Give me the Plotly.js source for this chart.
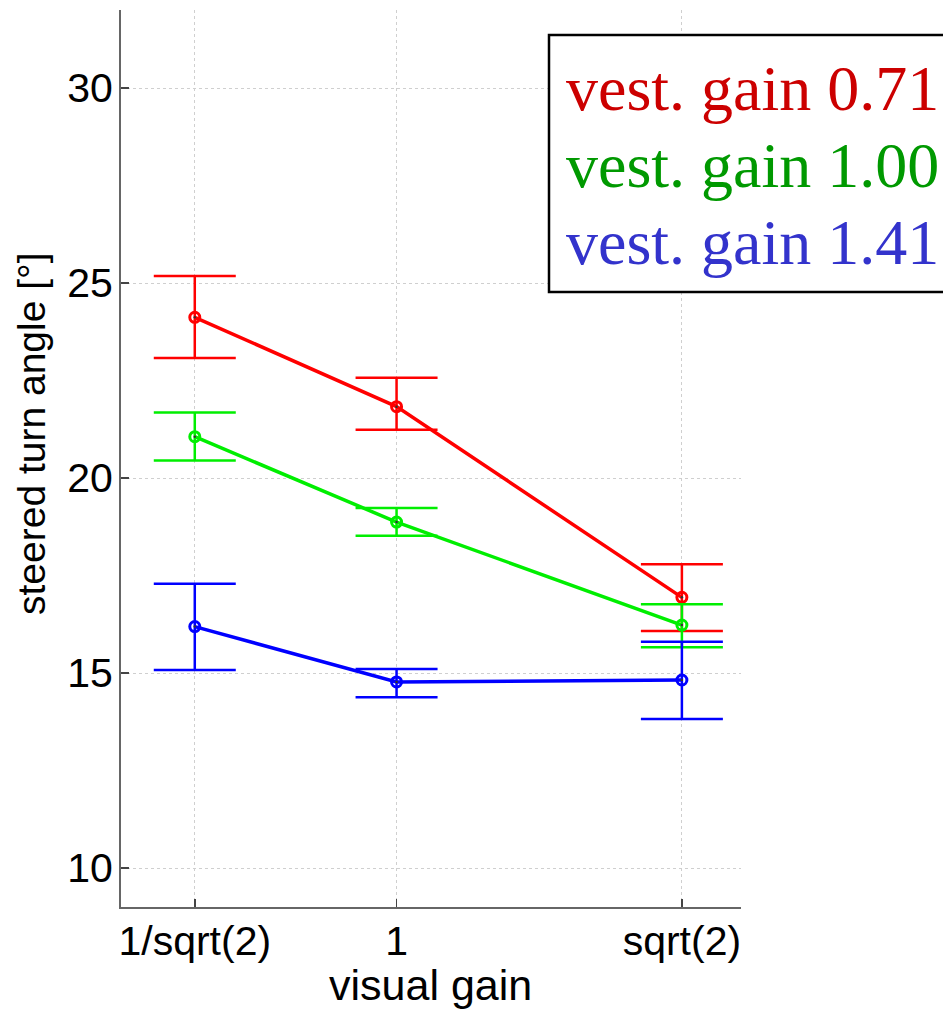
<!DOCTYPE html>
<html>
<head>
<meta charset="utf-8">
<script src="https://cdn.plot.ly/plotly-3.0.1.min.js"></script>
<style>html,body{margin:0;padding:0;background:#fff;}#chart{width:943px;height:1011px;}</style>
</head>
<body>
<div id="chart"></div>
<script>
// visual gain positions (numeric) and their tick labels
const visualGain = [0.7071, 1, 1.4142];
const tickLabels = ["1/sqrt(2)", "1", "sqrt(2)"];

// steered turn angle means and error bar ends (degrees)
const redMean  = [24.12, 21.83, 16.94];
const redUp    = [25.18, 22.57, 17.79];
const redLow   = [23.08, 21.24, 16.08];

const greenMean = [21.06, 18.87, 16.23];
const greenUp   = [21.68, 19.23, 16.76];
const greenLow  = [20.45, 18.52, 15.66];

const blueMean = [16.19, 14.77, 14.82];
const blueUp   = [17.29, 15.10, 15.80];
const blueLow  = [15.08, 14.38, 13.82];

const legendLabels = ["vest. gain 0.71", "vest. gain 1.00", "vest. gain 1.41"];
const legendColors = ["#cc0000", "#009900", "#3333cc"];

function series(mean, up, low, color) {
  return {
    x: visualGain, y: mean, type: "scatter", mode: "lines+markers",
    line: {color: color, width: 3.5},
    marker: {symbol: "circle-open", size: 10, color: color, line: {width: 3, color: color}},
    error_y: {
      type: "data", symmetric: false,
      array: up.map((u, i) => u - mean[i]),
      arrayminus: low.map((l, i) => mean[i] - l),
      color: color, thickness: 2.5, width: 41
    },
    showlegend: false, hoverinfo: "skip"
  };
}
function dots(mean) {
  return {x: visualGain, y: mean, type: "scatter", mode: "markers",
    marker: {size: 2.5, color: "#333"}, showlegend: false, hoverinfo: "skip"};
}

const data = [
  series(redMean, redUp, redLow, "#ff0000"),
  series(greenMean, greenUp, greenLow, "#00ee00"),
  series(blueMean, blueUp, blueLow, "#0000ff"),
  dots(redMean), dots(greenMean), dots(blueMean)
];

const sans = "'Liberation Sans', Arial, Helvetica, sans-serif";
const tickFont = {family: sans, size: 41, color: "#000"};

const annotations = legendLabels.map((t, i) => ({
  xref: "paper", yref: "paper",
  x: (564 - 121) / 620, y: (907 - (88 + 77 * i)) / 897,
  xanchor: "left", yanchor: "middle", showarrow: false,
  text: t, font: {family: "'Liberation Serif', 'Times New Roman', serif", size: 64, color: legendColors[i]}
}));
annotations.push({
  xref: "paper", yref: "paper", x: (430 - 121) / 620, y: (907 - 985) / 897,
  xanchor: "center", yanchor: "middle", showarrow: false,
  text: "visual gain", font: {family: sans, size: 43, color: "#000"}
});
annotations.push({
  xref: "paper", yref: "paper", x: (31 - 121) / 620, y: (907 - 434) / 897,
  xanchor: "center", yanchor: "middle", showarrow: false, textangle: -90,
  text: "steered turn angle [°]", font: {family: sans, size: 39, color: "#000"}
});

const layout = {
  width: 943, height: 1011,
  margin: {l: 121, r: 202, t: 10, b: 104, pad: 0},
  paper_bgcolor: "#fff", plot_bgcolor: "#fff",
  xaxis: {
    range: [0.6, 1.5], tickvals: visualGain, ticktext: tickLabels,
    showline: true, linecolor: "#666", linewidth: 2, mirror: false,
    ticks: "inside", ticklen: 8, tickcolor: "#444", tickwidth: 1.5,
    showgrid: true, gridcolor: "#cfcfcf", griddash: "dot", gridwidth: 1,
    zeroline: false, tickfont: tickFont, ticklabelstandoff: -3
  },
  yaxis: {
    range: [9, 32], tickvals: [10, 15, 20, 25, 30],
    showline: true, linecolor: "#666", linewidth: 2, mirror: false,
    ticks: "inside", ticklen: 8, tickcolor: "#444", tickwidth: 1.5,
    showgrid: true, gridcolor: "#cfcfcf", griddash: "dot", gridwidth: 1,
    zeroline: false, tickfont: tickFont, ticklabelstandoff: -2
  },
  shapes: [{
    type: "rect", xref: "paper", yref: "paper",
    x0: (549 - 121) / 620, x1: (948 - 121) / 620,
    y0: (907 - 292) / 897, y1: (907 - 35) / 897,
    line: {color: "#000", width: 2.5}, fillcolor: "#fff", layer: "above"
  }],
  annotations: annotations
};

Plotly.newPlot("chart", data, layout, {staticPlot: true, displayModeBar: false});
</script>
</body>
</html>
